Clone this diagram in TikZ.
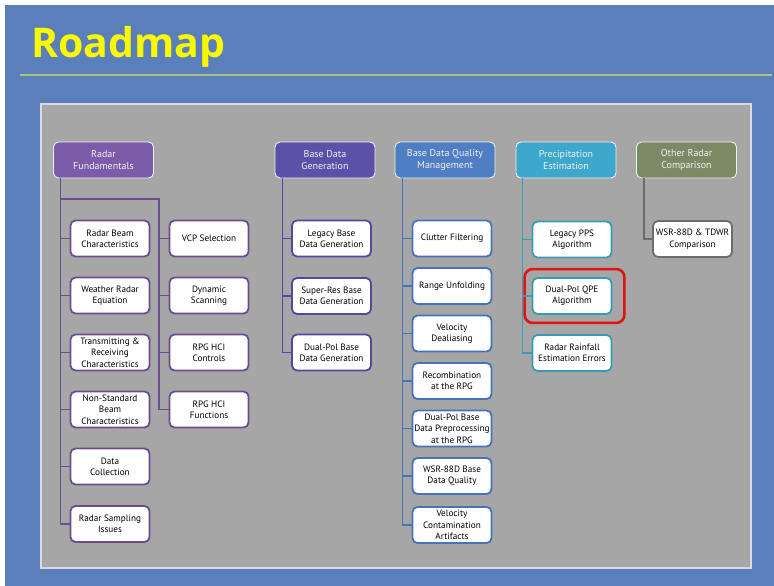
\documentclass[tikz,border=0pt]{standalone}
\usepackage{fontspec}
\setmainfont{PT Sans}
\newfontfamily\titlefont{Open Sans}

\definecolor{slideblue}{HTML}{5B7FBB}
\definecolor{rulegreen}{HTML}{A8C384}
\definecolor{titleyellow}{HTML}{F8F800}
\definecolor{panelgray}{HTML}{A6A6A6}
\definecolor{paneledge}{HTML}{D5DCE6}
\definecolor{fundhead}{HTML}{7C5CA8}
\definecolor{fundline}{HTML}{6A4D8E}
\definecolor{genhead}{HTML}{5C51A9}
\definecolor{genline}{HTML}{4F4A9F}
\definecolor{qualhead}{HTML}{4F7EC4}
\definecolor{qualline}{HTML}{4672B6}
\definecolor{prechead}{HTML}{3DA8CC}
\definecolor{precline}{HTML}{3A9AB6}
\definecolor{otherhead}{HTML}{7A8A64}
\definecolor{otherline}{HTML}{6C6C6C}
\definecolor{ringred}{HTML}{E31212}

\tikzset{
  head/.style={draw=white!88!gray, line width=0.9pt, rounded corners=5pt,
    minimum width=100pt, minimum height=36pt, inner sep=1pt, align=center,
    text=white!94!black, font=\fontsize{10}{12}\selectfont},
  topic/.style={fill=white, line width=1.8pt, rounded corners=5pt,
    minimum width=79pt, minimum height=36pt, inner sep=1pt, align=center,
    font=\fontsize{9.2}{11.3}\selectfont},
  link/.style={line width=1.8pt},
  redring/.style={draw=ringred, line width=2.6pt, rounded corners=8pt},
}

\begin{document}
\begin{tikzpicture}[x=1pt,y=-1pt]
  \useasboundingbox (0,0) rectangle (774,586);
  % slide background
  \fill[white] (0,0) rectangle (774,586);
  \fill[slideblue] (5,5) rectangle (774,586);
  \node[anchor=base west, inner sep=0pt, text=titleyellow,
        font=\titlefont\bfseries\fontsize{41}{41}\selectfont] (title) at (31,58) {Roadmap};
  \draw[rulegreen, line width=2pt] (20,75.5) -- (772,75.5);
  \draw[paneledge, line width=1.2pt, fill=panelgray] (41,104) rectangle (751,568);

  % column headers
  \node[head, fill=fundhead] (fund) at (103.5,160) {Radar\\Fundamentals};
  \node[head, fill=genhead] (gen) at (325,160) {Base Data\\Generation};
  \node[head, fill=qualhead] (qual) at (445,160) {Base Data Quality\\Management};
  \node[head, fill=prechead] (prec) at (566,160) {Precipitation\\Estimation};
  \node[head, fill=otherhead] (other) at (686.5,160) {Other Radar\\Comparison};

  % radar fundamentals
  \node[topic, draw=fundline] (beam) at (110,238.5) {Radar Beam\\Characteristics};
  \node[topic, draw=fundline] (equation) at (110,295.5) {Weather Radar\\Equation};
  \node[topic, draw=fundline] (transmit) at (110,352.5) {Transmitting \&\\Receiving\\Characteristics};
  \node[topic, draw=fundline] (nonstd) at (110,409.5) {Non-Standard\\Beam\\Characteristics};
  \node[topic, draw=fundline] (collect) at (110,466.5) {Data\\Collection};
  \node[topic, draw=fundline] (sampling) at (110,524) {Radar Sampling\\Issues};
  \node[topic, draw=fundline] (vcp) at (209,238.5) {VCP Selection};
  \node[topic, draw=fundline] (dynamic) at (209,295.5) {Dynamic\\Scanning};
  \node[topic, draw=fundline] (controls) at (209,352.5) {RPG HCI\\Controls};
  \node[topic, draw=fundline] (functions) at (209,409.5) {RPG HCI\\Functions};

  % base data generation
  \node[topic, draw=genline] (legacybd) at (331.5,238.5) {Legacy Base\\Data Generation};
  \node[topic, draw=genline] (superres) at (331.5,296) {Super-Res Base\\Data Generation};
  \node[topic, draw=genline] (dualbd) at (331.5,352.5) {Dual-Pol Base\\Data Generation};

  % base data quality management
  \node[topic, draw=qualline] (clutter) at (452,238.5) {Clutter Filtering};
  \node[topic, draw=qualline] (range) at (452,286) {Range Unfolding};
  \node[topic, draw=qualline] (dealias) at (452,333.5) {Velocity\\Dealiasing};
  \node[topic, draw=qualline] (recomb) at (452,381) {Recombination\\at the RPG};
  \node[topic, draw=qualline] (preproc) at (452,428.5) {Dual-Pol Base\\Data Preprocessing\\at the RPG};
  \node[topic, draw=qualline] (wsrqual) at (452,476) {WSR-88D Base\\Data Quality};
  \node[topic, draw=qualline] (contam) at (452,525) {Velocity\\Contamination\\Artifacts};

  % precipitation estimation
  \node[topic, draw=precline] (pps) at (572,239.5) {Legacy PPS\\Algorithm};
  \node[topic, draw=precline] (qpe) at (572,296) {Dual-Pol QPE\\Algorithm};
  \node[topic, draw=precline] (errors) at (572,353) {Radar Rainfall\\Estimation Errors};
  \draw[redring] ([shift={(-7,-8)}]qpe.north west) rectangle ([shift={(12,8)}]qpe.south east);

  % other radar comparison
  \node[topic, draw=otherline] (tdwr) at (692.5,239) {WSR-88D \& TDWR\\Comparison};

  % tree lines
  \coordinate (fundsplit) at (159,199);
  \draw[link, fundline] ([xshift=7.5pt]fund.south west) |- (sampling.west);
  \draw[link, fundline] ([xshift=7.5pt]fund.south west) |- (fundsplit) |- (functions.west);
  \foreach \n in {beam,equation,transmit,nonstd,collect}
    \draw[link, fundline] ([xshift=7.5pt]fund.south west) |- (\n.west);
  \foreach \n in {vcp,dynamic,controls}
    \draw[link, fundline] (fundsplit) |- (\n.west);
  \foreach \n in {legacybd,superres,dualbd}
    \draw[link, genline] ([xshift=8pt]gen.south west) |- (\n.west);
  \foreach \n in {clutter,range,dealias,recomb,preproc,wsrqual,contam}
    \draw[link, qualline] ([xshift=8pt]qual.south west) |- (\n.west);
  \foreach \n in {pps,qpe,errors}
    \draw[link, precline] ([xshift=7pt]prec.south west) |- (\n.west);
  \draw[link, otherline] ([xshift=8pt]other.south west) |- (tdwr.west);
\end{tikzpicture}
\end{document}
